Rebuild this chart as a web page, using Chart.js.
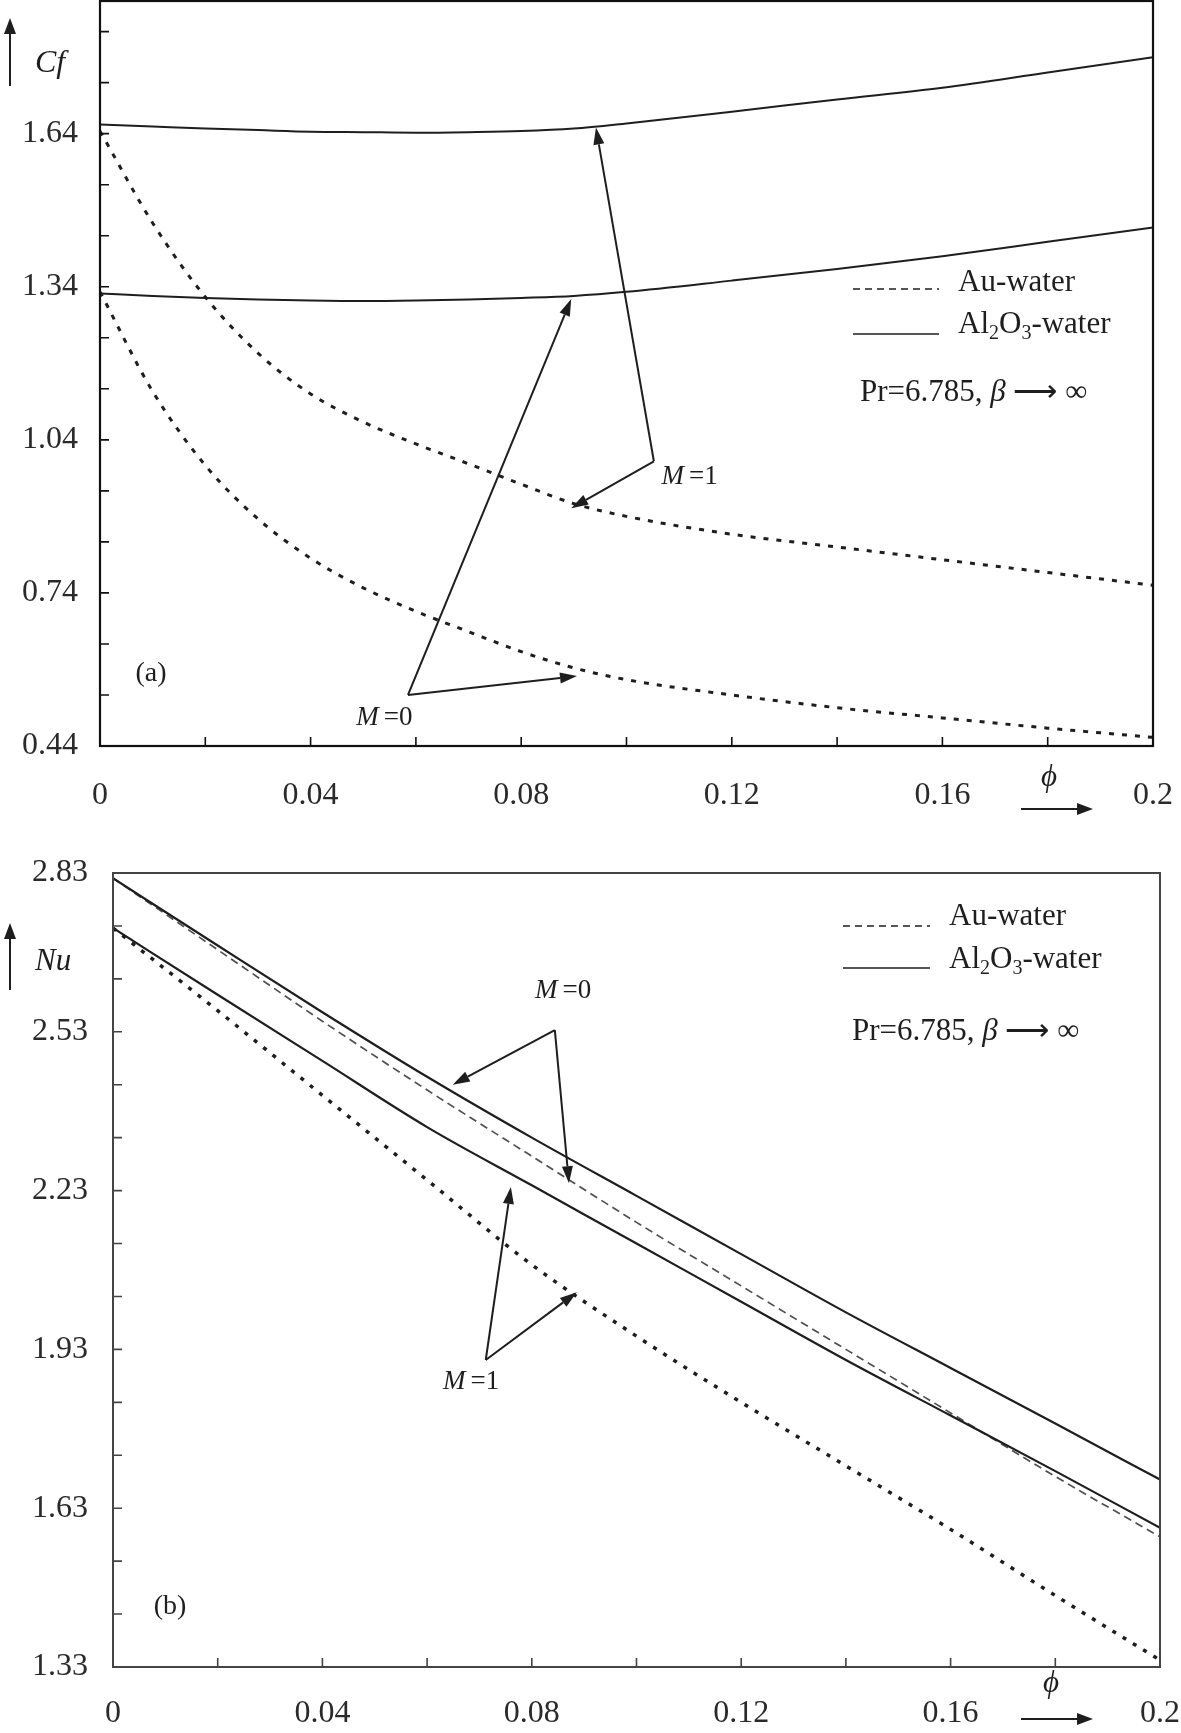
<!DOCTYPE html>
<html><head><meta charset="utf-8">
<script src="https://cdn.jsdelivr.net/npm/chart.js@4.4.0/dist/chart.umd.min.js"></script>
<style>
html,body{margin:0;padding:0;background:#fff;width:1181px;height:1733px;overflow:hidden;}
canvas{position:absolute;left:0;}
#c1{top:0;}
#c2{top:840px;}
</style></head><body>
<canvas id="c1" width="1181" height="830" style="width:1181px;height:830px"></canvas>
<canvas id="c2" width="1181" height="893" style="width:1181px;height:893px"></canvas>
<script>
// ---------- data (a): skin friction Cf vs phi ----------
const phiCf = [0,0.01,0.02,0.03,0.04,0.05,0.06,0.07,0.08,0.09,0.10,0.12,0.14,0.16,0.18,0.20];
const cfAl2O3_M1 = [1.658,1.654,1.650,1.647,1.644,1.643,1.642,1.643,1.645,1.650,1.660,1.683,1.707,1.730,1.760,1.790];
const cfAl2O3_M0 = [1.327,1.322,1.318,1.315,1.313,1.312,1.313,1.315,1.318,1.322,1.330,1.352,1.375,1.400,1.428,1.456];
const cfAu_M1    = [1.645,1.465,1.320,1.210,1.130,1.075,1.032,0.993,0.953,0.915,0.890,0.855,0.830,0.805,0.780,0.755];
const cfAu_M0    = [1.330,1.135,0.990,0.885,0.808,0.750,0.704,0.664,0.625,0.593,0.570,0.540,0.515,0.495,0.475,0.457];
// ---------- data (b): Nusselt number vs phi ----------
const phiNu = [0,0.02,0.04,0.06,0.08,0.10,0.12,0.14,0.16,0.18,0.20];
const nuAl2O3_M0 = [2.820,2.693,2.567,2.445,2.330,2.220,2.110,2.000,1.895,1.790,1.684];
const nuAl2O3_M1 = [2.726,2.600,2.475,2.350,2.240,2.130,2.020,1.910,1.805,1.700,1.593];
const nuAu_M0    = [2.820,2.685,2.550,2.420,2.295,2.170,2.050,1.930,1.810,1.690,1.576];
const nuAu_M1    = [2.726,2.570,2.410,2.250,2.090,1.955,1.830,1.710,1.590,1.465,1.343];
// ---------- ticks ----------
const phiTicks = [0,0.02,0.04,0.06,0.08,0.10,0.12,0.14,0.16,0.18,0.20];
const phiTickLabels = ['0','0.04','0.08','0.12','0.16','0.2'];
const cfTicks = [0.44,0.54,0.64,0.74,0.84,0.94,1.04,1.14,1.24,1.34,1.44,1.54,1.64,1.74,1.84];
const cfTickLabels = ['0.44','0.74','1.04','1.34','1.64'];
const nuTicks = [1.33,1.43,1.53,1.63,1.73,1.83,1.93,2.03,2.13,2.23,2.33,2.43,2.53,2.63,2.73,2.83];
const nuTickLabels = ['1.33','1.63','1.93','2.23','2.53','2.83'];

const SERIF = "'Liberation Serif','Times New Roman',serif";
const INK = '#1e1e1e';

function pts(xs, ys){ return xs.map((x,i)=>({x:x, y:ys[i]})); }
function labelFor(list){
  return function(v){
    for (const s of list){ if (Math.abs(parseFloat(s)-v) < 1e-6) return s; }
    return '';
  };
}
function arrow(ctx,x1,y1,x2,y2,hl,hw,lw){
  const a=Math.atan2(y2-y1,x2-x1);
  const bx=x2-hl*Math.cos(a), by=y2-hl*Math.sin(a);
  ctx.lineWidth=lw; ctx.beginPath(); ctx.moveTo(x1,y1); ctx.lineTo(bx,by); ctx.stroke();
  ctx.beginPath(); ctx.moveTo(x2,y2);
  ctx.lineTo(bx+hw*Math.sin(a), by-hw*Math.cos(a));
  ctx.lineTo(bx-hw*Math.sin(a), by+hw*Math.cos(a));
  ctx.closePath(); ctx.fill();
}
function mLabel(ctx, cx, cy, rest, fs){
  ctx.textBaseline='middle'; ctx.textAlign='left';
  ctx.font = `italic ${fs}px ${SERIF}`; const w1 = ctx.measureText('M').width;
  ctx.font = `${fs}px ${SERIF}`; const w2 = ctx.measureText(rest).width;
  const gap = 5, x0 = cx - (w1+gap+w2)/2;
  ctx.font = `italic ${fs}px ${SERIF}`; ctx.fillText('M', x0, cy);
  ctx.font = `${fs}px ${SERIF}`; ctx.fillText(rest, x0+w1+gap, cy);
}
function al2o3(ctx, x, cy, fs){
  ctx.textBaseline='alphabetic'; ctx.textAlign='left';
  const base = cy + fs*0.33;
  const big = `${fs}px ${SERIF}`, small = `${Math.round(fs*0.66)}px ${SERIF}`;
  const parts = [['Al',big,0],['2',small,fs*0.2],['O',big,0],['3',small,fs*0.2],['-water',big,0]];
  for (const [t,f,dy] of parts){ ctx.font=f; ctx.fillText(t, x, base+dy); x += ctx.measureText(t).width; }
}
function prLabel(ctx, x, cy, fs){
  ctx.textBaseline='middle'; ctx.textAlign='left';
  const parts = [['Pr=6.785, ',false,fs],['\u03B2',true,fs],[' \u27F6 ',false,fs],['\u221E',false,fs]];
  for (const [t,it,f] of parts){ ctx.font = `${it?'italic ':''}${f}px ${SERIF}`; ctx.fillText(t, x, cy); x += ctx.measureText(t).width; }
}
function legend(ctx, lx1, lx2, yDash, yAuTxt, ySolid, yAlTxt, tx, prx, yPr, fs){
  ctx.strokeStyle=INK; ctx.lineWidth=1.6;
  ctx.setLineDash([7,5]); ctx.beginPath(); ctx.moveTo(lx1,yDash); ctx.lineTo(lx2,yDash); ctx.stroke();
  ctx.setLineDash([]); ctx.beginPath(); ctx.moveTo(lx1,ySolid); ctx.lineTo(lx2,ySolid); ctx.stroke();
  ctx.fillStyle=INK; ctx.font=`${fs}px ${SERIF}`; ctx.textBaseline='middle'; ctx.textAlign='left';
  ctx.fillText('Au-water', tx, yAuTxt);
  al2o3(ctx, tx, yAlTxt, fs);
  prLabel(ctx, prx, yPr, fs);
}
function upArrow(ctx, x, yBottom, yTop){
  ctx.strokeStyle=INK; ctx.fillStyle=INK; arrow(ctx, x, yBottom, x, yTop, 16, 6, 2);
}
function framePlugin(opts){
  return {
    id:'frame',
    afterDraw(chart){
      const ctx=chart.ctx, a=chart.chartArea, xs=chart.scales.x, ys=chart.scales.y;
      ctx.save();
      ctx.strokeStyle=opts.color; ctx.lineWidth=opts.lw; ctx.setLineDash([]);
      ctx.strokeRect(a.left, a.top, a.right-a.left, a.bottom-a.top);
      ctx.lineWidth=1.6;
      ctx.beginPath();
      for (const t of xs.ticks){ const p=xs.getPixelForValue(t.value); ctx.moveTo(p,a.bottom); ctx.lineTo(p,a.bottom-opts.tick); }
      for (const t of ys.ticks){ const p=ys.getPixelForValue(t.value); ctx.moveTo(a.left,p); ctx.lineTo(a.left+opts.tick,p); }
      ctx.stroke();
      const P=(q)=>[xs.getPixelForValue(q[0]), ys.getPixelForValue(q[1])];
      ctx.strokeStyle=INK; ctx.fillStyle=INK;
      for (const n of opts.notes){
        const v=P(n.vertex);
        for (const t of n.tips){ const p=P(t); arrow(ctx, v[0], v[1], p[0], p[1], 17, 5.5, 2); }
        const c=P(n.text); ctx.fillStyle=INK; mLabel(ctx, c[0], c[1], n.rest, 27);
      }
      opts.extra(ctx);
      ctx.restore();
    }
  };
}
function lineDs(data, dash, width, color){
  return {data:data, borderColor:color, borderWidth:width, borderDash:dash, pointRadius:0,
          fill:false, cubicInterpolationMode:'monotone', borderCapStyle:'butt'};
}
function scales(xTicks, xLabels, yTicks, yLabels, yMin, yMax, yWidth, xHeight, yPad, xPad){
  const font = {family:SERIF, size:32};
  return {
    x:{type:'linear', min:0, max:0.2,
       grid:{display:false, drawTicks:false}, border:{display:false},
       afterBuildTicks:(s)=>{ s.ticks = xTicks.map(v=>({value:v})); },
       afterFit:(s)=>{ s.height=xHeight; s.paddingLeft=0; s.paddingRight=0; s.paddingTop=0; s.paddingBottom=0; },
       ticks:{autoSkip:false, maxRotation:0, padding:xPad, color:'#2a2a2a', font:font, callback:labelFor(xLabels)}},
    y:{type:'linear', min:yMin, max:yMax,
       grid:{display:false, drawTicks:false}, border:{display:false},
       afterBuildTicks:(s)=>{ s.ticks = yTicks.map(v=>({value:v})); },
       afterFit:(s)=>{ s.width=yWidth; s.paddingTop=0; s.paddingBottom=0; s.paddingLeft=0; s.paddingRight=0; },
       ticks:{autoSkip:false, padding:yPad, color:'#2a2a2a', font:font, callback:labelFor(yLabels)}}
  };
}

// ---------- chart (a) ----------
new Chart(document.getElementById('c1'), {
  type:'line',
  data:{datasets:[
    lineDs(pts(phiCf,cfAl2O3_M1), [], 2, INK),
    lineDs(pts(phiCf,cfAl2O3_M0), [], 2, INK),
    lineDs(pts(phiCf,cfAu_M1), [5,8], 3, INK),
    lineDs(pts(phiCf,cfAu_M0), [5,8], 3, INK)
  ]},
  options:{
    responsive:false, animation:false, devicePixelRatio:1,
    layout:{padding:{top:1, right:28, left:0, bottom:0}},
    plugins:{legend:{display:false}, tooltip:{enabled:false}},
    scales:scales(phiTicks, phiTickLabels, cfTicks, cfTickLabels, 0.44, 1.9, 100, 84, 22, 30)
  },
  plugins:[framePlugin({color:'#111', lw:2.2, tick:9,
    notes:[
      {text:[0.112,0.967], rest:'=1', vertex:[0.1052,0.998], tips:[[0.0942,1.652],[0.0895,0.906]]},
      {text:[0.054,0.495], rest:'=0', vertex:[0.0585,0.540], tips:[[0.0895,1.316],[0.0906,0.577]]}
    ],
    extra:(ctx)=>{
      legend(ctx, 853, 939, 289, 283, 334, 323, 958, 860, 393, 31);
      ctx.fillStyle=INK; ctx.font=`28px ${SERIF}`; ctx.textAlign='center'; ctx.textBaseline='middle';
      ctx.fillText('(a)', 151, 674);
      ctx.font=`italic 32px ${SERIF}`; ctx.textAlign='left'; ctx.fillText('Cf', 35, 64);
      upArrow(ctx, 10, 86, 18);
      ctx.font=`italic 31px ${SERIF}`; ctx.textAlign='center'; ctx.fillText('\u03D5', 1049, 778);
      arrow(ctx, 1021, 809, 1093, 809, 16, 6, 2);
    }
  })]
});

// ---------- chart (b) ----------
const OFF = 840;
new Chart(document.getElementById('c2'), {
  type:'line',
  data:{datasets:[
    lineDs(pts(phiNu,nuAl2O3_M0), [], 2.2, INK),
    lineDs(pts(phiNu,nuAl2O3_M1), [], 2.2, INK),
    lineDs(pts(phiNu,nuAu_M0), [8,5], 1.7, '#505050'),
    lineDs(pts(phiNu,nuAu_M1), [4,8], 3.5, INK)
  ]},
  options:{
    responsive:false, animation:false, devicePixelRatio:1,
    layout:{padding:{top:33, right:21, left:0, bottom:0}},
    plugins:{legend:{display:false}, tooltip:{enabled:false}},
    scales:scales(phiTicks, phiTickLabels, nuTicks, nuTickLabels, 1.33, 2.83, 113, 66, 25, 27)
  },
  plugins:[framePlugin({color:'#444', lw:2, tick:9,
    notes:[
      {text:[0.0860,2.607], rest:'=0', vertex:[0.0844,2.533], tips:[[0.0649,2.43],[0.0871,2.244]]},
      {text:[0.0684,1.868], rest:'=1', vertex:[0.0712,1.910], tips:[[0.0760,2.237],[0.0886,2.038]]}
    ],
    extra:(ctx)=>{
      legend(ctx, 843, 930, 926-OFF, 917-OFF, 968-OFF, 958-OFF, 949, 852, 1032-OFF, 31);
      ctx.fillStyle=INK; ctx.font=`28px ${SERIF}`; ctx.textAlign='center'; ctx.textBaseline='middle';
      ctx.fillText('(b)', 170, 1607-OFF);
      ctx.font=`italic 31px ${SERIF}`; ctx.textAlign='left'; ctx.fillText('Nu', 35, 962-OFF);
      upArrow(ctx, 10, 990-OFF, 923-OFF);
      ctx.font=`italic 31px ${SERIF}`; ctx.textAlign='center'; ctx.fillText('\u03D5', 1051, 1684-OFF);
      arrow(ctx, 1021, 1719-OFF, 1093, 1719-OFF, 16, 6, 2);
    }
  })]
});
</script>
</body></html>
